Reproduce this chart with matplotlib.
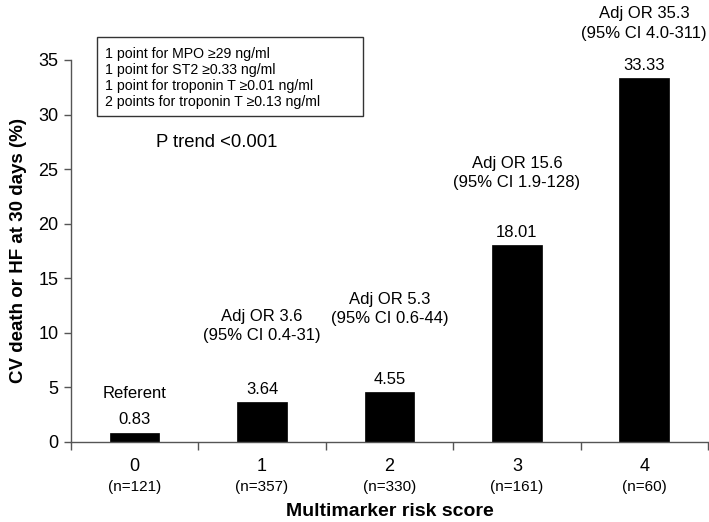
import matplotlib
matplotlib.use('Agg')
import matplotlib.pyplot as plt
from matplotlib.patches import Rectangle
import numpy as np

plt.rcParams['font.family'] = ['Liberation Sans', 'DejaVu Sans']

SCORES   = ["0", "1", "2", "3", "4"]
N_LABELS = ["(n=121)", "(n=357)", "(n=330)", "(n=161)", "(n=60)"]
RATES    = [0.83, 3.64, 4.55, 18.01, 33.33]
OR_TEXT  = ["Referent",
            "Adj OR 3.6\n(95% CI 0.4-31)",
            "Adj OR 5.3\n(95% CI 0.6-44)",
            "Adj OR 15.6\n(95% CI 1.9-128)",
            "Adj OR 35.3\n(95% CI 4.0-311)"]
BOX_LINES = ["1 point for MPO \u226529 ng/ml",
             "1 point for ST2 \u22650.33 ng/ml",
             "1 point for troponin T \u22650.01 ng/ml",
             "2 points for troponin T \u22650.13 ng/ml"]

# vertical centre of the OR annotations (data units)
OR_Y = [4.48, 10.6, 12.2, 24.65, 38.35]

AXCOL = '#555555'

fig = plt.figure(figsize=(7.09, 5.22), dpi=100)
ax = fig.add_axes([0.100, 0.1533, 0.8986, 0.7318])

x = np.arange(len(SCORES))
bars = ax.bar(x, RATES, width=0.39, color='black', edgecolor='black', linewidth=0.5)

ax.set_xlim(-0.5, 4.5)
ax.set_ylim(0, 35)
ax.set_yticks(np.arange(0, 36, 5))
ax.tick_params(axis='y', labelsize=13, length=5, color=AXCOL, width=1, pad=4)

ax.set_xticks(x)
ax.set_xticklabels(SCORES, fontsize=13)
ax.tick_params(axis='x', which='major', length=0, pad=11.5)
ax.set_xticks(np.arange(-0.5, 5, 1), minor=True)
ax.tick_params(axis='x', which='minor', length=6, color=AXCOL, width=1)

for s in ('top', 'right'):
    ax.spines[s].set_visible(False)
for s in ('left', 'bottom'):
    ax.spines[s].set_color(AXCOL)
    ax.spines[s].set_linewidth(1)

ax.set_ylabel("CV death or HF at 30 days (%)", fontsize=13.5, fontweight='bold', labelpad=8)

for i, n in enumerate(N_LABELS):
    ax.annotate(n, xy=(i, 0), xycoords=('data', 'axes fraction'),
                xytext=(0, -32.5), textcoords='offset points',
                ha='center', va='center', fontsize=11)
ax.annotate("Multimarker risk score", xy=(0.5, 0), xycoords='axes fraction',
            xytext=(0, -50), textcoords='offset points',
            ha='center', va='center', fontsize=14, fontweight='bold')

for bar, v in zip(bars, RATES):
    ax.annotate(f"{v:.2f}", xy=(bar.get_x() + bar.get_width() / 2, v),
                xytext=(0, 4), textcoords='offset points',
                ha='center', va='bottom', fontsize=12)

for i, (t, yy) in enumerate(zip(OR_TEXT, OR_Y)):
    ax.text(i, yy, t, ha='center', va='center', fontsize=12,
            linespacing=1.35, clip_on=False)

# box with the scoring rules (fixed size, sticks out above the axes)
ax.add_patch(Rectangle((0.041, 0.853), 0.418, 0.207, transform=ax.transAxes,
                       facecolor='white', edgecolor='#333333', linewidth=1,
                       clip_on=False, zorder=3))
ax.text(0.053, 0.953, "\n".join(BOX_LINES), transform=ax.transAxes,
        ha='left', va='center', fontsize=10.2, linespacing=1.2, zorder=4)

ax.text(0.229, 0.785, "P trend <0.001", transform=ax.transAxes,
        ha='center', va='center', fontsize=13.3)

plt.savefig("out.png", dpi=100)
